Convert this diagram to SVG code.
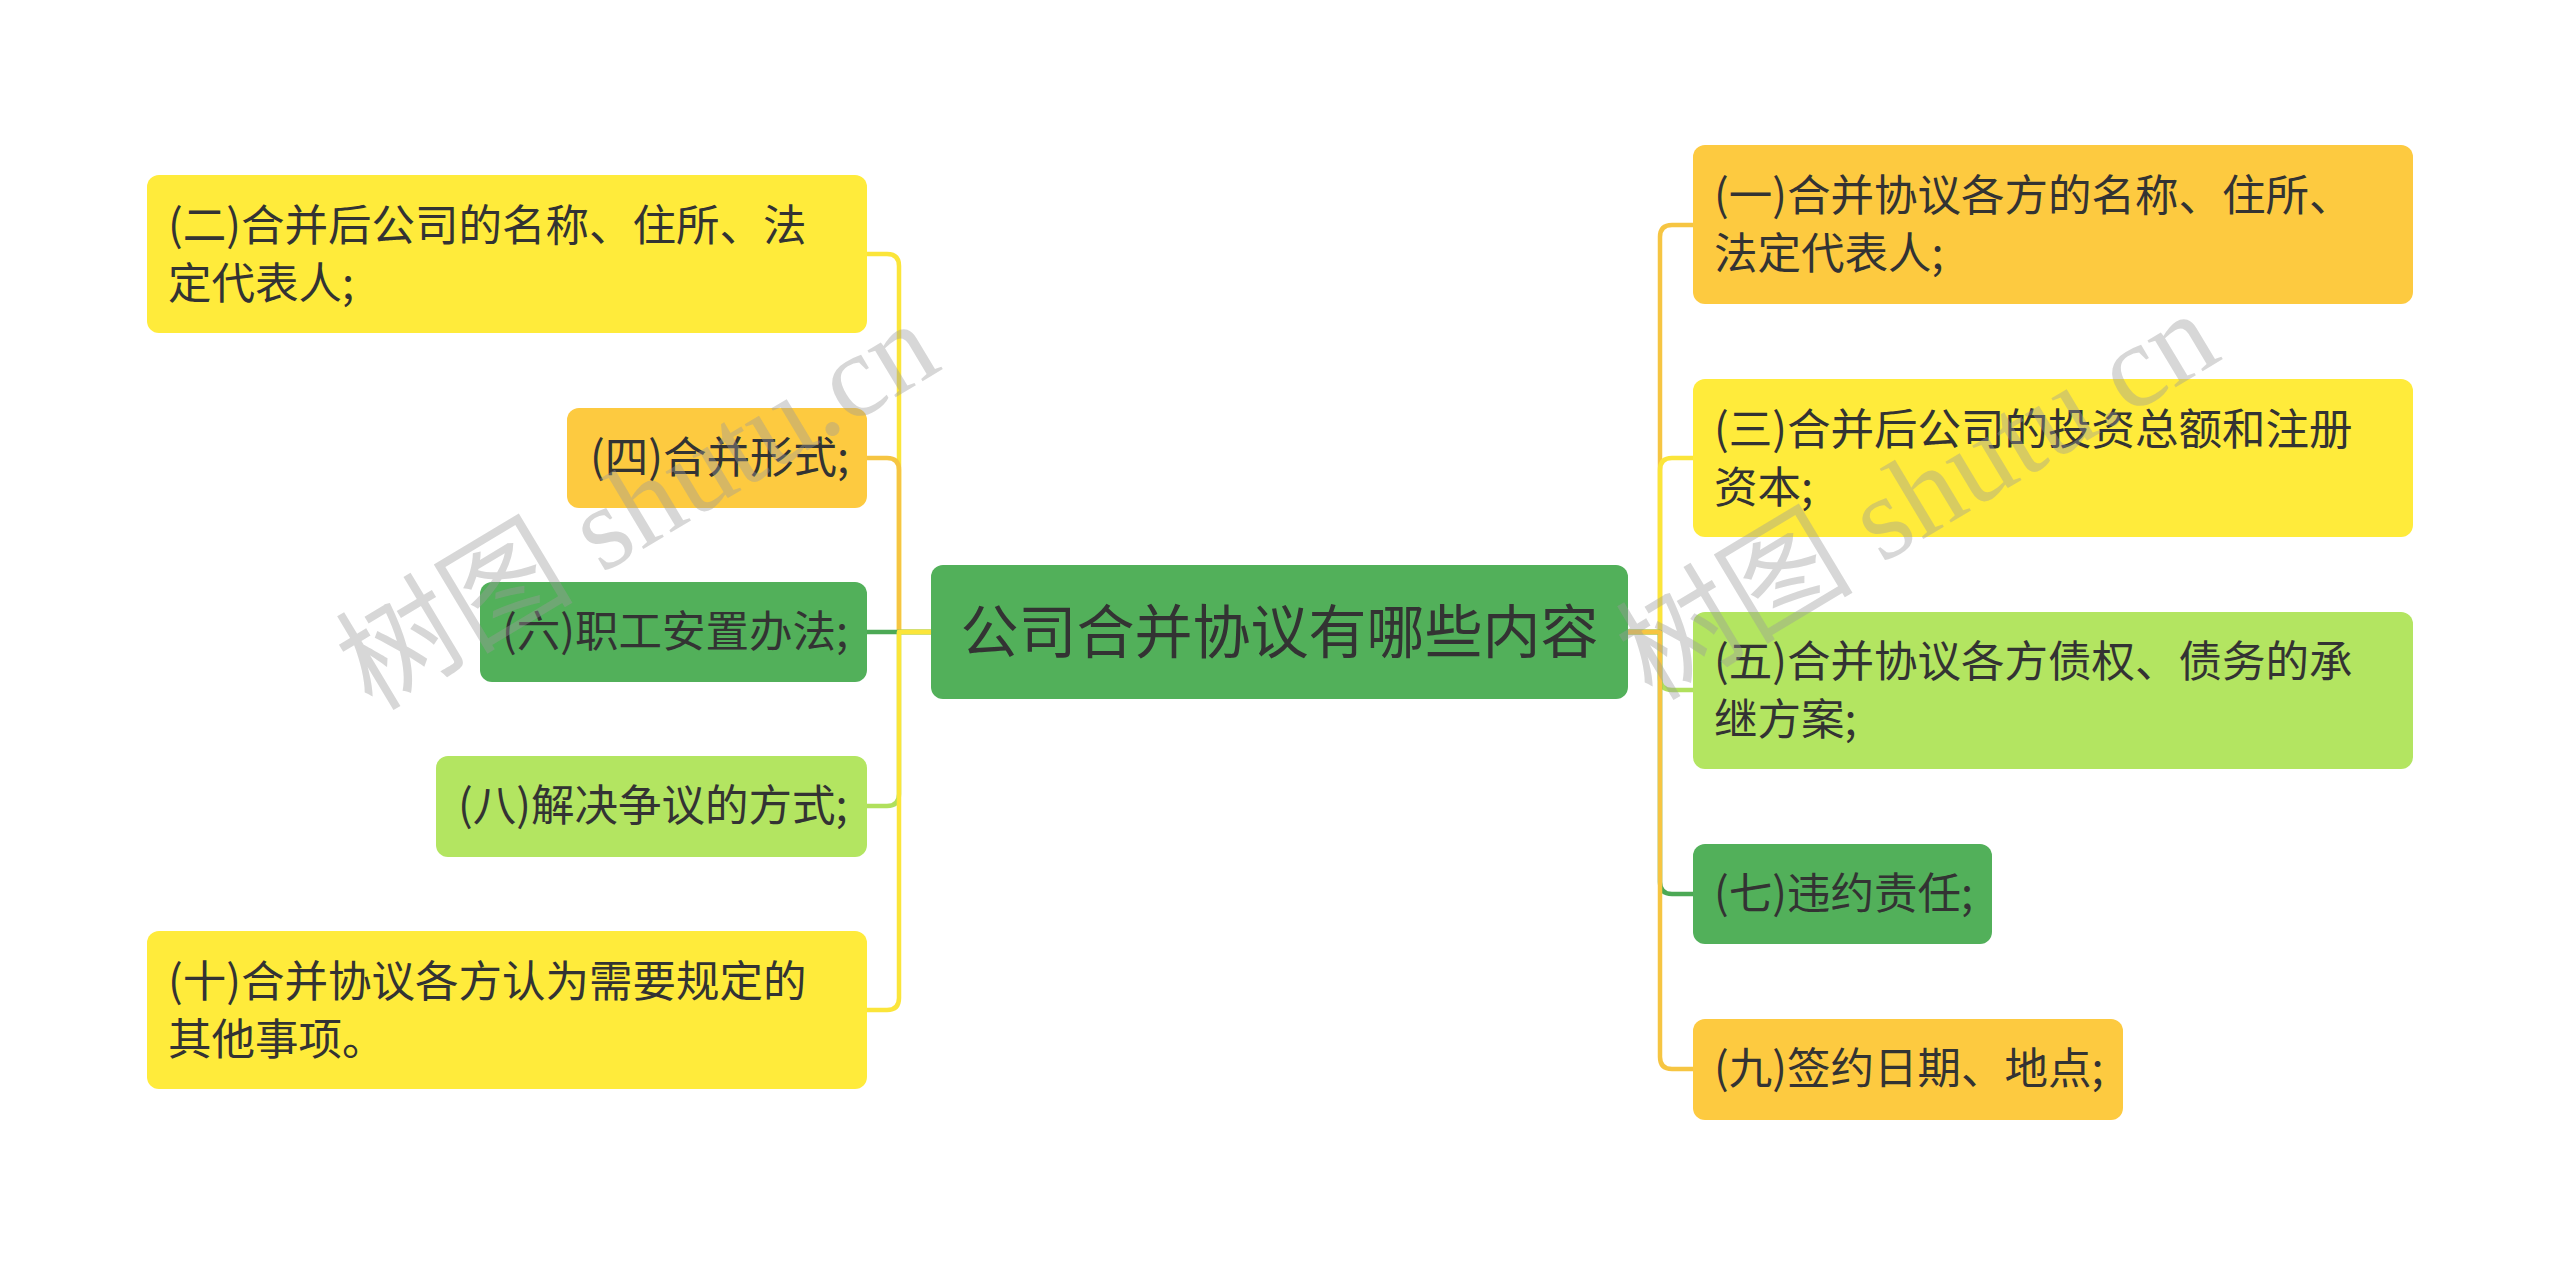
<svg xmlns="http://www.w3.org/2000/svg" width="2560" height="1265" viewBox="0 0 2560 1265">
<style>
.t{font-family:"Noto Sans CJK SC","Noto Sans",sans-serif;font-size:43.5px;fill:#333333}
.root{font-family:"Noto Sans CJK SC","Noto Sans",sans-serif;font-size:58px;fill:#333333}
.c{fill:none;stroke-width:4.5;stroke-linecap:butt;stroke-linejoin:round}
.yel{fill:#FFEB3B}.org{fill:#FDCA40}.grn{fill:#52B05A}.lgr{fill:#B3E561}
.sy{stroke:#FBE53A}.so{stroke:#F6C542}.sg{stroke:#4CA955}.sl{stroke:#B0E05C}
.wm{font-family:"Liberation Serif","Noto Sans CJK SC",serif;font-size:119px;fill:#9a9a9a;fill-opacity:0.4}
</style>
<rect width="2560" height="1265" fill="#ffffff"/>
<g id="connectors">
<path class="c sy" d="M931,632 H899 V266 Q899,254 887,254 H867"/>
<path class="c so" d="M931,632 H899 V470 Q899,458 887,458 H867"/>
<path class="c sg" d="M931,632 H867"/>
<path class="c sl" d="M931,632 H899 V794 Q899,806 887,806 H867"/>
<path class="c sy" d="M931,632 H899 V998 Q899,1010 887,1010 H867"/>
<path class="c so" d="M1628,632 H1660 V237 Q1660,225 1672,225 H1693"/>
<path class="c sy" d="M1628,632 H1660 V470 Q1660,458 1672,458 H1693"/>
<path class="c sl" d="M1628,632 H1660 V678 Q1660,690 1672,690 H1693"/>
<path class="c sg" d="M1628,632 H1660 V882 Q1660,894 1672,894 H1693"/>
<path class="c so" d="M1628,632 H1660 V1057 Q1660,1069 1672,1069 H1693"/>
</g>
<g id="root">
<rect class="grn" x="931" y="565" width="697" height="134" rx="12"/>
<text class="root" x="1279.5" y="653" text-anchor="middle">公司合并协议有哪些内容</text>
</g>
<g id="n2">
<rect class="yel" x="147" y="175" width="720" height="158" rx="12"/>
<text class="t" x="168" y="241">(二)合并后公司的名称、住所、法</text>
<text class="t" x="168" y="299">定代表人;</text>
</g>
<g id="n4">
<rect class="org" x="567" y="408" width="300" height="100" rx="12"/>
<text class="t" x="590" y="473">(四)合并形式;</text>
</g>
<g id="n6">
<rect class="grn" x="480" y="582" width="387" height="100" rx="12"/>
<text class="t" x="502" y="647">(六)职工安置办法;</text>
</g>
<g id="n8">
<rect class="lgr" x="436" y="756" width="431" height="101" rx="12"/>
<text class="t" x="458" y="821">(八)解决争议的方式;</text>
</g>
<g id="n10">
<rect class="yel" x="147" y="931" width="720" height="158" rx="12"/>
<text class="t" x="168" y="997">(十)合并协议各方认为需要规定的</text>
<text class="t" x="168" y="1055">其他事项。</text>
</g>
<g id="n1">
<rect class="org" x="1693" y="145" width="720" height="159" rx="12"/>
<text class="t" x="1714" y="211">(一)合并协议各方的名称、住所、</text>
<text class="t" x="1714" y="269">法定代表人;</text>
</g>
<g id="n3">
<rect class="yel" x="1693" y="379" width="720" height="158" rx="12"/>
<text class="t" x="1714" y="445">(三)合并后公司的投资总额和注册</text>
<text class="t" x="1714" y="503">资本;</text>
</g>
<g id="n5">
<rect class="lgr" x="1693" y="612" width="720" height="157" rx="12"/>
<text class="t" x="1714" y="677">(五)合并协议各方债权、债务的承</text>
<text class="t" x="1714" y="735">继方案;</text>
</g>
<g id="n7">
<rect class="grn" x="1693" y="844" width="299" height="100" rx="12"/>
<text class="t" x="1714" y="909">(七)违约责任;</text>
</g>
<g id="n9">
<rect class="org" x="1693" y="1019" width="430" height="101" rx="12"/>
<text class="t" x="1714" y="1084">(九)签约日期、地点;</text>
</g>
<g id="watermark">
<text class="wm" transform="translate(372,712) rotate(-31)">树图 shutu.cn</text>
<text class="wm" transform="translate(1652,702) rotate(-31)">树图 shutu.cn</text>
</g>
</svg>
